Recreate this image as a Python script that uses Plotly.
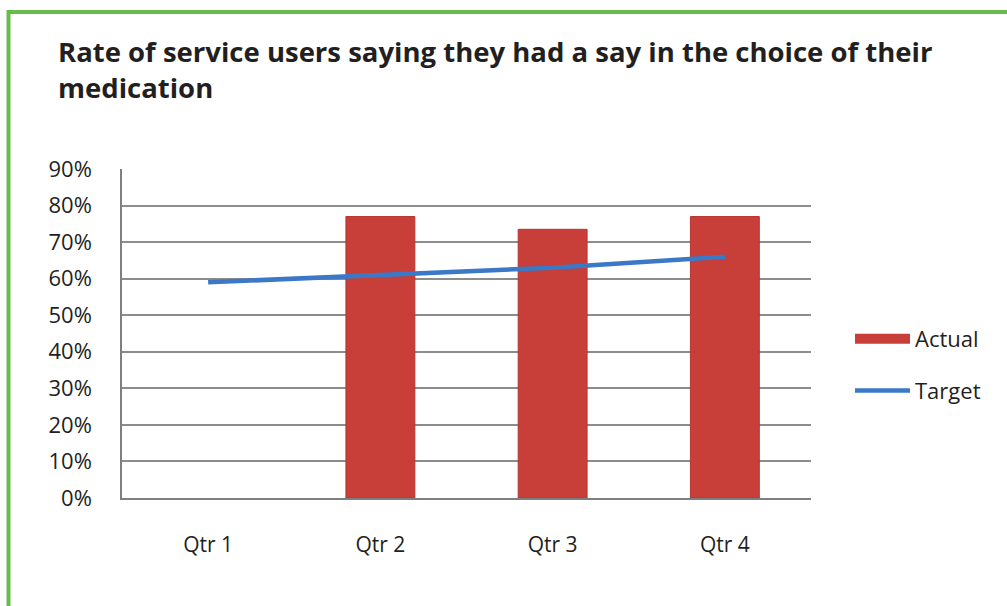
import plotly.graph_objects as go

# Quarterly figures
quarters = ["Qtr 1", "Qtr 2", "Qtr 3", "Qtr 4"]
actual = [None, 0.77, 0.735, 0.77]
target = [0.59, 0.61, 0.63, 0.66]
y_ticks = [0, 0.1, 0.2, 0.3, 0.4, 0.5, 0.6, 0.7, 0.8, 0.9]

W, H = 1007, 606
L, R, T, B = 122, 196, 169, 108
pw, ph = W - L - R, H - T - B

BAR_RED = "#C83E39"
LINE_BLUE = "#3B78C6"


def px_x(x):
    return (x - L) / pw


def px_y(y):
    return (H - B - y) / ph


font = "Open Sans"

fig = go.Figure()
fig.add_trace(go.Bar(
    x=quarters, y=actual, name="Actual",
    marker=dict(color=BAR_RED, line=dict(color="#B83532", width=1)),
    width=0.4, showlegend=False,
))
# wide rectangular swatch for the bar series in the legend
fig.add_trace(go.Scatter(
    x=[None], y=[None], name="Actual", mode="lines",
    line=dict(color=BAR_RED, width=16), legendgroup="a",
))
fig.add_trace(go.Scatter(
    x=quarters, y=target, name="Target", mode="lines",
    line=dict(color=LINE_BLUE, width=4.5), legendgroup="t",
))

fig.update_layout(
    width=W, height=H,
    margin=dict(l=L, r=R, t=T, b=B),
    paper_bgcolor="white", plot_bgcolor="white",
    font=dict(family=font, color="#231F20"),
    showlegend=True,
    legend=dict(
        x=px_x(850), y=px_y(318), xanchor="left", yanchor="top",
        font=dict(size=22, family=font, color="#231F20"),
        traceorder="grouped", tracegroupgap=20, itemwidth=55,
        bgcolor="rgba(0,0,0,0)",
    ),
    xaxis=dict(
        showline=True, linecolor="#7F7F7F", linewidth=1.5,
        showgrid=False, ticks="", tickfont=dict(size=21),
        ticklabelstandoff=27,
    ),
    yaxis=dict(
        range=[0, 0.9], tickvals=y_ticks, tickformat=".0%",
        showline=True, linecolor="#7F7F7F", linewidth=1.5,
        showgrid=True, gridcolor="#8C8C8C", gridwidth=1.5,
        zeroline=False, ticks="", tickfont=dict(size=22),
        ticklabelstandoff=24,
    ),
    annotations=[dict(
        text="<b>Rate of service users saying they had a say in the choice of their<br>medication</b>",
        xref="paper", yref="paper", x=px_x(56), y=px_y(31),
        xanchor="left", yanchor="top", align="left", showarrow=False,
        font=dict(size=27.5, family=font, color="#231F20"),
    )],
    shapes=[
        dict(type="line", xref="paper", yref="paper",
             x0=px_x(8), x1=px_x(1010), y0=px_y(12), y1=px_y(12),
             line=dict(color="#66BB4A", width=4)),
        dict(type="line", xref="paper", yref="paper",
             x0=px_x(8.5), x1=px_x(8.5), y0=px_y(10), y1=px_y(610),
             line=dict(color="#66BB4A", width=4)),
    ],
)

fig.write_html("out.html")
